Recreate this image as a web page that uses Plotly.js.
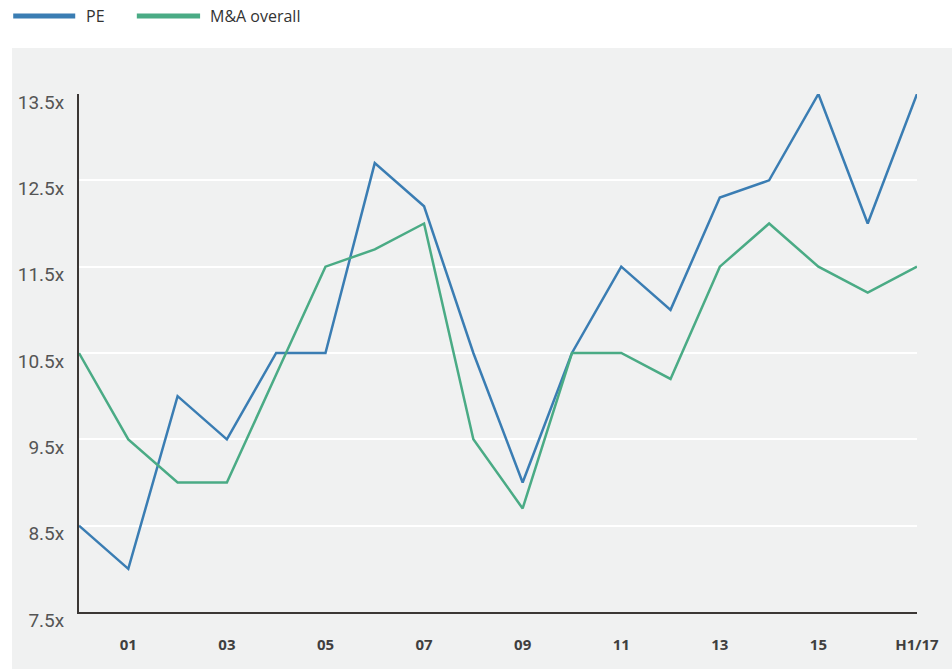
<!DOCTYPE html>
<html>
<head>
<meta charset="utf-8">
<script src="https://cdn.plot.ly/plotly-3.0.1.min.js"></script>
<style>
  html, body { margin: 0; padding: 0; background: #fff; }
  #chart { width: 952px; height: 669px; }
</style>
</head>
<body>
<div id="chart"></div>
<script>
// Years, 2000 to first half of 2017
var years = ["00", "01", "02", "03", "04", "05", "06", "07", "08", "09",
             "10", "11", "12", "13", "14", "15", "16", "H1/17"];
var tickYears = ["01", "03", "05", "07", "09", "11", "13", "15", "H1/17"];

// Multiples
var pe = [8.5, 8.0, 10.0, 9.5, 10.5, 10.5, 12.7, 12.2, 10.5, 9.0,
          10.5, 11.5, 11.0, 12.3, 12.5, 13.5, 12.0, 13.5];
var mna = [10.5, 9.5, 9.0, 9.0, 10.25, 11.5, 11.7, 12.0, 9.5, 8.7,
           10.5, 10.5, 10.2, 11.5, 12.0, 11.5, 11.2, 11.5];

var yTicks = [7.5, 8.5, 9.5, 10.5, 11.5, 12.5, 13.5];

var blue = "#3a7db3";
var green = "#4aab85";

var data = [
  {x: years, y: pe, type: "scatter", mode: "lines", name: "PE",
   line: {color: blue, width: 2.5}},
  {x: years, y: mna, type: "scatter", mode: "lines", name: "M&A overall",
   line: {color: green, width: 2.5}}
];

var layout = {
  width: 952,
  height: 669,
  margin: {l: 79, r: 35, t: 94, b: 57},
  paper_bgcolor: "#ffffff",
  plot_bgcolor: "rgba(0,0,0,0)",
  showlegend: false,
  font: {family: "Open Sans, sans-serif", color: "#555"},
  xaxis: {
    type: "category",
    range: [0, 17],
    tickvals: tickYears,
    ticktext: tickYears,
    showgrid: false,
    zeroline: false,
    showline: true,
    linecolor: "#3b3735",
    linewidth: 2,
    ticks: "",
    ticklabelstandoff: 18,
    tickfont: {family: "Open Sans, sans-serif", size: 15, color: "#3f3f3f", weight: "bold"}
  },
  yaxis: {
    range: [7.5, 13.5],
    tickvals: yTicks,
    ticktext: yTicks.map(function (v) { return v.toFixed(1) + "x"; }),
    showgrid: true,
    gridcolor: "#ffffff",
    gridwidth: 2,
    zeroline: false,
    showline: true,
    linecolor: "#3b3735",
    linewidth: 2,
    ticks: "",
    ticklabelstandoff: 9,
    ticklabelshift: 8,
    tickfont: {family: "Roboto, sans-serif", size: 19, color: "#555"}
  },
  shapes: [
    // grey panel behind the chart
    {type: "rect", xref: "paper", yref: "paper", layer: "below",
     x0: -0.08, x1: 1.042, y0: -0.11, y1: 1.089,
     fillcolor: "#f0f1f1", line: {width: 0}},
    // hand-made legend keys
    {type: "line", xref: "paper", yref: "paper",
     x0: -0.0785, x1: -0.0045, y0: 1.1506, y1: 1.1506,
     line: {color: blue, width: 5}},
    {type: "line", xref: "paper", yref: "paper",
     x0: 0.069, x1: 0.1445, y0: 1.1506, y1: 1.1506,
     line: {color: green, width: 5}}
  ],
  annotations: [
    {text: "PE", xref: "paper", yref: "paper", x: 0.006, y: 1.1506,
     xanchor: "left", yanchor: "middle", showarrow: false,
     font: {size: 16, color: "#333"}},
    {text: "M&A overall", xref: "paper", yref: "paper", x: 0.154, y: 1.1506,
     xanchor: "left", yanchor: "middle", showarrow: false,
     font: {size: 16, color: "#333"}}
  ]
};

Plotly.newPlot("chart", data, layout, {displayModeBar: false});
</script>
</body>
</html>
